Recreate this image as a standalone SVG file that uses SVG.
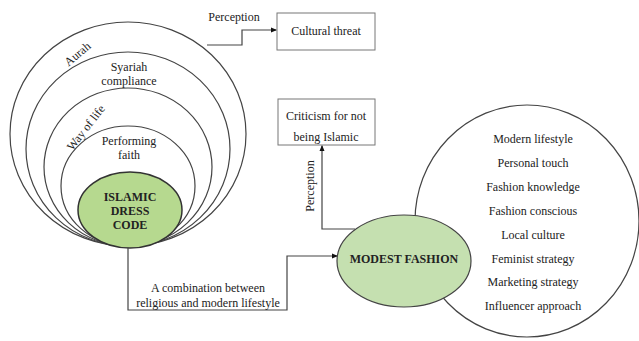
<svg xmlns="http://www.w3.org/2000/svg" width="639" height="341" viewBox="0 0 639 341">
<defs>
<style>
.t{font-family:"Liberation Serif","Times New Roman",serif;font-size:12px;fill:#222;text-anchor:middle}
.b{font-family:"Liberation Serif","Times New Roman",serif;font-size:12px;font-weight:bold;fill:#222;text-anchor:middle}
.ring{fill:none;stroke:#444;stroke-width:1.2}
.box{fill:#fff;stroke:#777;stroke-width:1}
.c{fill:none;stroke:#444;stroke-width:1.2}
</style>
<marker id="ah" markerWidth="6" markerHeight="6" refX="5" refY="3" orient="auto" markerUnits="userSpaceOnUse">
<path d="M0,0.5 L6,3 L0,5.5 Z" fill="#111"/>
</marker>
</defs>
<rect width="639" height="341" fill="#fff"/>
<g id="rings">
<ellipse class="ring" cx="128" cy="134" rx="118" ry="112"/>
<ellipse class="ring" cx="128" cy="149" rx="102" ry="97"/>
<ellipse class="ring" cx="128" cy="167" rx="84" ry="79"/>
<ellipse class="ring" cx="128" cy="186" rx="67" ry="60"/>
<text class="t" transform="translate(80,57) rotate(-40)">Aurah</text>
<text class="t" x="129" y="71">Syariah</text>
<text class="t" x="129" y="85">compliance</text>
<text class="t" transform="translate(89,130) rotate(-52)">Way of life</text>
<text class="t" x="129" y="145">Performing</text>
<text class="t" x="129" y="159">faith</text>
</g>
<g id="islamic-dress-code">
<ellipse cx="130" cy="210" rx="52" ry="38" fill="#b6d98f" stroke="#333" stroke-width="1.5"/>
<text class="b" x="130" y="201">ISLAMIC</text>
<text class="b" x="130" y="215">DRESS</text>
<text class="b" x="130" y="229">CODE</text>
</g>
<g id="cultural-threat">
<rect class="box" x="277" y="13" width="98" height="37"/>
<text class="t" x="326" y="35">Cultural threat</text>
</g>
<g id="criticism">
<rect class="box" x="278" y="99" width="97" height="46"/>
<text class="t" x="326" y="120">Criticism for not</text>
<text class="t" x="326" y="141">being Islamic</text>
</g>
<g id="attributes">
<ellipse class="ring" cx="527" cy="221" rx="112" ry="116"/>
<text class="t" x="533" y="143">Modern lifestyle</text>
<text class="t" x="533" y="167">Personal touch</text>
<text class="t" x="533" y="191">Fashion knowledge</text>
<text class="t" x="533" y="215">Fashion conscious</text>
<text class="t" x="533" y="239">Local culture</text>
<text class="t" x="533" y="263">Feminist strategy</text>
<text class="t" x="533" y="286">Marketing strategy</text>
<text class="t" x="533" y="310">Influencer approach</text>
</g>
<g id="connectors">
<path class="c" d="M207,45 H242 V30 H276" marker-end="url(#ah)"/>
<path class="c" d="M355,229 H322 V146" marker-end="url(#ah)"/>
<path class="c" d="M128,248 V310 H287 V256 H337" marker-end="url(#ah)"/>
<text class="t" x="234" y="21">Perception</text>
<text class="t" transform="translate(314,186) rotate(-90)">Perception</text>
<text class="t" x="208" y="292">A combination between</text>
<text class="t" x="208" y="307">religious and modern lifestyle</text>
</g>
<g id="modest-fashion">
<ellipse cx="404" cy="261" rx="67" ry="46" fill="#c5e0b0" stroke="#444" stroke-width="1.2"/>
<text class="b" x="404" y="263">MODEST FASHION</text>
</g>
</svg>
